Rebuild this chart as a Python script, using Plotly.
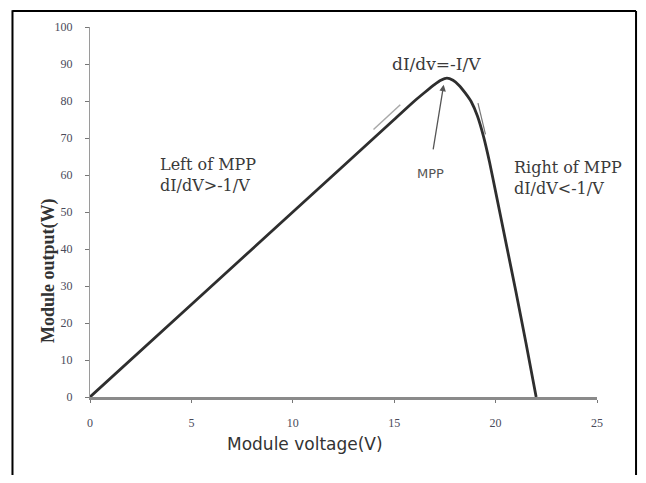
import plotly.graph_objects as go

# Data
voltage = [0, 5, 10, 15, 16, 16.5, 17, 17.3, 17.6, 17.9, 18.2, 18.5, 18.8, 19.1, 19.4, 19.7, 20, 20.5, 21, 21.5, 22]
power = [0, 25, 50, 75, 80, 82.3, 84.5, 85.6, 86.2, 85.6, 84.2, 82.2, 79.8, 76.0, 70.5, 63.5, 55.5, 42, 28.5, 14.5, 0]

left_tangent_v = [13.98, 15.3]
left_tangent_p = [72.3, 79.0]
right_tangent_v = [19.13, 19.5]
right_tangent_p = [79.4, 71.0]

x_ticks = [0, 5, 10, 15, 20, 25]
y_ticks = [0, 10, 20, 30, 40, 50, 60, 70, 80, 90, 100]

serif = "DejaVu Serif"
txt_col = "#3a3a3a"

fig = go.Figure()
fig.add_trace(go.Scatter(x=voltage, y=power, mode="lines",
                         line=dict(color="#2e2e2e", width=2.8, shape="spline", smoothing=0.6),
                         showlegend=False, hoverinfo="skip"))
fig.add_trace(go.Scatter(x=left_tangent_v, y=left_tangent_p, mode="lines",
                         line=dict(color="#a8a8a8", width=1.5), showlegend=False))
fig.add_trace(go.Scatter(x=right_tangent_v, y=right_tangent_p, mode="lines",
                         line=dict(color="#777777", width=1.2), showlegend=False))

annots = [
    dict(x=17.11, y=90.1, text="dI/dv=-I/V", xanchor="center",
         font=dict(family=serif, size=17, color=txt_col)),
    dict(x=3.35, y=60.1, text="Left of MPP<br>dI/dV>-1/V", align="left", xanchor="left",
         font=dict(family=serif, size=16, color=txt_col)),
    dict(x=16.81, y=60.4, text="MPP", xanchor="center",
         font=dict(family="DejaVu Sans", size=13, color="#555555")),
    dict(x=20.81, y=59.3, text="Right of MPP<br>dI/dV<-1/V", align="left", xanchor="left",
         font=dict(family=serif, size=16, color=txt_col)),
]
for a in annots:
    fig.add_annotation(xref="x", yref="y", showarrow=False, **a)

# arrow from MPP label to peak
fig.add_annotation(x=17.44, y=84.4, ax=16.91, ay=66.5, xref="x", yref="y",
                   axref="x", ayref="y", text="", showarrow=True,
                   arrowhead=2, arrowsize=1, arrowwidth=1.3, arrowcolor="#555555")

# axis titles
fig.add_annotation(xref="paper", yref="paper", x=-0.1065, y=0.342, text="<b>Module output(W)</b>",
                   textangle=-90, showarrow=False,
                   font=dict(family="Liberation Serif", size=18, color="#333333"))
fig.add_annotation(xref="paper", yref="paper", x=0.424, y=-0.16, text="Module voltage(V)",
                   showarrow=False, font=dict(family="DejaVu Sans", size=17, color="#333333"))

# outer frame: top and right as lines, left as a thin filled bar
fx0, fx1, fy0, fy1 = -0.1529, 1.077, -0.3, 1.043
fig.add_shape(type="line", xref="paper", yref="paper", x0=fx0, y0=fy1, x1=fx1, y1=fy1,
              line=dict(color="black", width=2), layer="above")
fig.add_shape(type="line", xref="paper", yref="paper", x0=fx1, y0=fy0, x1=fx1, y1=fy1,
              line=dict(color="black", width=2), layer="above")
fig.add_shape(type="rect", xref="paper", yref="paper", x0=fx0 - 0.002, x1=fx0 + 0.002,
              y0=-0.25, y1=fy1 + 0.002, fillcolor="black", line=dict(width=0), layer="above")

fig.update_layout(
    width=630, height=467, autosize=False,
    margin=dict(l=82, r=41, t=17, b=77.5),
    paper_bgcolor="white", plot_bgcolor="white",
    dragmode=False,
    xaxis=dict(range=[0, 25], tickvals=x_ticks, ticktext=[str(v) for v in x_ticks],
               showgrid=False, zeroline=False, showline=True, linecolor="#8a8a8a", linewidth=3,
               ticks="outside", ticklen=3, tickcolor="#777777", tickwidth=1,
               ticklabelstandoff=10, fixedrange=True,
               tickfont=dict(family="Liberation Serif", size=12, color="#4a4a5a")),
    yaxis=dict(range=[0, 100], tickvals=y_ticks, ticktext=[str(v) for v in y_ticks],
               showgrid=False, zeroline=False, showline=True, linecolor="#9a9a9a", linewidth=1,
               ticks="outside", ticklen=4, tickcolor="#777777", tickwidth=1,
               ticklabelstandoff=10, fixedrange=True,
               tickfont=dict(family="Liberation Serif", size=12, color="#4a4a5a")),
)

fig.write_html("out.html")
